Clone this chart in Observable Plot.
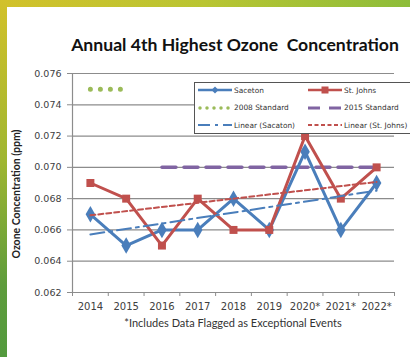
<!DOCTYPE html>
<html><head><meta charset="utf-8">
<script src="https://cdn.jsdelivr.net/npm/d3@7"></script>
<script src="https://cdn.jsdelivr.net/npm/@observablehq/plot@0.6"></script>
<style>
html,body{margin:0;padding:0;background:#fff;}
#wrap{position:relative;width:410px;height:357px;overflow:hidden;background:#fff;}
#topbar{position:absolute;left:0;top:0;width:410px;height:7px;background:linear-gradient(to right,#d2c12a,#b9c532 50%,#8dbd3a);}
#leftbar{position:absolute;left:0;top:0;width:7px;height:357px;background:linear-gradient(to bottom,#d2c12a,#9fb631 45%,#5e9c3c 80%,#539a3e);}
#title{position:absolute;left:0;width:470px;top:34px;text-align:center;font-family:Lato,sans-serif;font-weight:bold;font-size:17.6px;color:#111;white-space:pre;}
#ylab{position:absolute;left:16px;top:194px;transform:translate(-50%,-50%) rotate(-90deg);font-family:Lato,sans-serif;font-weight:bold;font-size:10.5px;color:#222;white-space:nowrap;}
#caption{position:absolute;left:0;width:466px;top:316px;text-align:center;font-family:Lato,sans-serif;font-size:11px;color:#333;white-space:nowrap;}
#chart{position:absolute;left:0;top:0;}
#legend{position:absolute;left:194px;top:82px;width:220px;height:52px;background:#fff;border:1px solid #555;box-sizing:border-box;font-family:"DejaVu Sans",sans-serif;font-size:7.4px;color:#333;}
.item{position:absolute;height:12px;display:flex;align-items:center;white-space:nowrap;}
.item svg{margin-right:1px;}
</style></head>
<body>
<div id="wrap">
  <div id="topbar"></div><div id="leftbar"></div>
  <div id="chart"></div>
  <div id="title">Annual 4th Highest Ozone  Concentration</div>
  <div id="ylab">Ozone Concentration (ppm)</div>
  <div id="caption">*Includes Data Flagged as Exceptional Events</div>
  <div id="legend"></div>
</div>
<script>
// ---- data ----
const years = [2014, 2015, 2016, 2017, 2018, 2019, 2020, 2021, 2022];
const yearLabels = ["2014", "2015", "2016", "2017", "2018", "2019", "2020*", "2021*", "2022*"];
const saceton = [0.067, 0.065, 0.066, 0.066, 0.068, 0.066, 0.071, 0.066, 0.069];
const stJohns = [0.069, 0.068, 0.065, 0.068, 0.066, 0.066, 0.072, 0.068, 0.070];
const std2008Years = [2014, 2015];
const std2008Value = 0.075;
const std2015Years = [2016, 2017, 2018, 2019, 2020, 2021, 2022];
const std2015Value = 0.070;
const yTicks = [0.062, 0.064, 0.066, 0.068, 0.070, 0.072, 0.074, 0.076];
const seriesNames = ["Saceton", "St. Johns", "2008 Standard", "2015 Standard", "Linear (Sacaton)", "Linear (St. Johns)"];

const BLUE = "#4a7ebb", RED = "#c0504d", GREEN = "#9bbb59", PURPLE = "#8064a2", GRID = "#8c8c8c";

const sac = years.map((y, i) => ({year: y, v: saceton[i]}));
const stj = years.map((y, i) => ({year: y, v: stJohns[i]}));
const s08 = std2008Years.map(y => ({year: y, v: std2008Value}));
const s15 = std2015Years.map(y => ({year: y, v: std2015Value}));
const bounds = d3.range(years.length + 1).map(i => years[0] - 0.5 + i);

const chart = Plot.plot({
  width: 410, height: 320,
  marginLeft: 72, marginRight: 16, marginTop: 73, marginBottom: 28,
  x: {domain: [years[0] - 0.5, years[years.length - 1] + 0.5], axis: null},
  y: {domain: [yTicks[0], yTicks[yTicks.length - 1]], axis: null},
  style: {fontFamily: "DejaVu Sans", fontSize: "10px", color: "#404040", background: "transparent"},
  marks: [
    Plot.ruleY(yTicks, {stroke: GRID, strokeWidth: 1.2}),
    Plot.ruleX([bounds[0]], {stroke: GRID, strokeWidth: 1.2}),
    Plot.axisY({ticks: yTicks, label: null, tickSize: 5, tickPadding: 6, stroke: GRID, fill: "#404040", fontSize: 9.5, tickFormat: d => d.toFixed(3)}),
    Plot.axisX({ticks: bounds, label: null, tickSize: 4, tickFormat: () => "", stroke: GRID}),
    Plot.axisX({ticks: years, label: null, tickSize: 0, tickPadding: 10, fill: "#404040", tickFormat: d => yearLabels[years.indexOf(d)]}),
    Plot.line(s08, {x: "year", y: "v", stroke: GREEN, strokeWidth: 5, strokeLinecap: "round", strokeDasharray: "0 10"}),
    Plot.line(s15, {x: "year", y: "v", stroke: PURPLE, strokeWidth: 3.5, strokeDasharray: "14 8"}),
    Plot.line(sac, {x: "year", y: "v", stroke: BLUE, strokeWidth: 3}),
    Plot.dot(sac, {x: "year", y: "v", symbol: "diamond", r: 5, fill: BLUE, stroke: "none"}),
    Plot.line(stj, {x: "year", y: "v", stroke: RED, strokeWidth: 3}),
    Plot.dot(stj, {x: "year", y: "v", symbol: "square", r: 4.5, fill: RED, stroke: "none"}),
    Plot.linearRegressionY(sac, {x: "year", y: "v", stroke: BLUE, strokeWidth: 2, ci: 0, strokeDasharray: "14 5 3 5"}),
    Plot.linearRegressionY(stj, {x: "year", y: "v", stroke: RED, strokeWidth: 2, ci: 0, strokeDasharray: "5 3"})
  ]
});
document.getElementById("chart").appendChild(chart);

// ---- legend ----
const samples = [
  `<line x1="0" y1="6" x2="34" y2="6" stroke="${BLUE}" stroke-width="2.5"/><path d="M17 2.5 L20.5 6 L17 9.5 L13.5 6Z" fill="${BLUE}"/>`,
  `<line x1="0" y1="6" x2="34" y2="6" stroke="${RED}" stroke-width="2.5"/><rect x="13.5" y="2.5" width="7" height="7" fill="${RED}"/>`,
  `<line x1="2" y1="6" x2="34" y2="6" stroke="${GREEN}" stroke-width="3.5" stroke-linecap="round" stroke-dasharray="0 7"/>`,
  `<line x1="0" y1="6" x2="34" y2="6" stroke="${PURPLE}" stroke-width="3" stroke-dasharray="12 9"/>`,
  `<line x1="0" y1="6" x2="34" y2="6" stroke="${BLUE}" stroke-width="2" stroke-dasharray="12 5 3 5"/>`,
  `<line x1="0" y1="6" x2="34" y2="6" stroke="${RED}" stroke-width="2" stroke-dasharray="4 2.5"/>`
];
const leg = document.getElementById("legend");
seriesNames.forEach((name, i) => {
  const col = i % 2, row = Math.floor(i / 2);
  const d = document.createElement("div");
  d.className = "item";
  d.style.left = (col ? 113 : 3) + "px";
  d.style.top = (1 + row * 17.5) + "px";
  d.innerHTML = `<svg width="35" height="12">${samples[i]}</svg><span>${name}</span>`;
  leg.appendChild(d);
});
</script>
</body></html>
